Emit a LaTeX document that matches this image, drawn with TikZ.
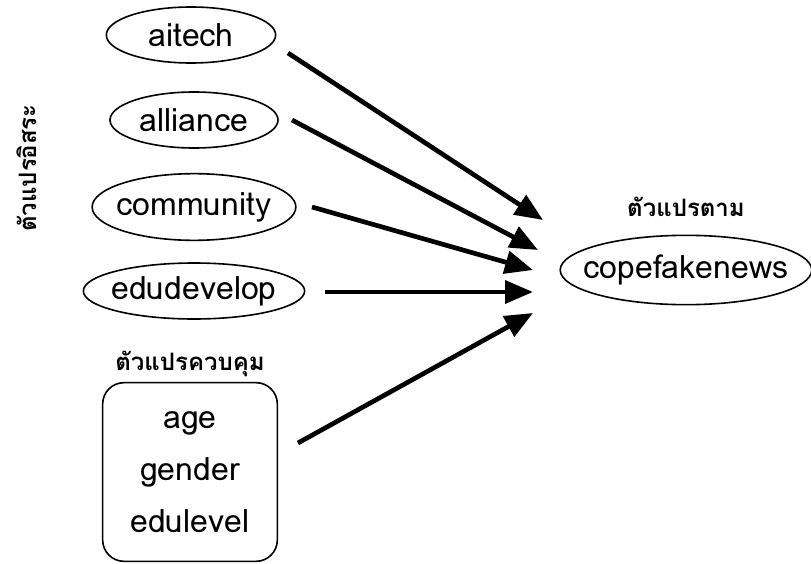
\documentclass[tikz,border=0pt]{standalone}
\usepackage{fontspec}
\setmainfont{Loma}[Script=Thai]
\usetikzlibrary{positioning,shapes.geometric,arrows.meta}
\tikzset{
  var/.style={ellipse, draw, line width=1.2pt, inner ysep=0pt, inner xsep=-4pt,
    font=\fontsize{24}{29}\selectfont},
  ctrl/.style={rectangle, rounded corners=16pt, draw, line width=1.2pt,
    align=center, inner sep=0pt, font=\fontsize{24}{29}\selectfont},
  head/.style={inner sep=0pt, font=\bfseries\fontsize{18}{21}\selectfont},
  eff/.style={-{Triangle[length=21pt,width=17pt]}, line width=3.5pt}}

\begin{document}
\begin{tikzpicture}[x=0.75pt, y=-0.75pt]
        \useasboundingbox (0,0) rectangle (811,564);
        % independent variables
        \node[var, minimum width=127pt, minimum height=42pt] (aitech)    at (191,35)  {aitech};
        \node[var, minimum width=126pt, minimum height=42pt] (alliance)  at (194,120) {alliance};
        \node[var, minimum width=152pt, minimum height=50pt] (community) at (194,207) {community};
        \node[var, minimum width=166pt, minimum height=42pt] (edudevelop) at (194,291) {edudevelop};
        \node[ctrl, minimum width=131pt, minimum height=134pt] (control) at (190,472)
          {age\\[10pt] gender\\[10pt] edulevel};
        % dependent variable
        \node[var, inner xsep=-10pt, minimum width=185pt, minimum height=52pt] (cope) at (686,270) {copefakenews};
        % headings
        \node[head, rotate=90] (indep) at (27,168) {ตัวแปรอิสระ};
        \node[head] (ctrlhead) [above=4pt of control] {ตัวแปรควบคุม};
        \node[head] (dephead)  [above=13pt of cope]   {ตัวแปรตาม};
        % arrow ends
        \coordinate (s1) at (288,53);  \coordinate (t1) at (543,220);
        \coordinate (s2) at (292,120); \coordinate (t2) at (538,250);
        \coordinate (s3) at (312,207); \coordinate (t3) at (533,270);
        \coordinate (s4) at (325,292); \coordinate (t4) at (533,292);
        \coordinate (s5) at (298,443); \coordinate (t5) at (533,313);
        \draw[eff] (s1) -- (t1);
        \draw[eff] (s2) -- (t2);
        \draw[eff] (s3) -- (t3);
        \draw[eff] (s4) -- (t4);
        \draw[eff] (s5) -- (t5);
\end{tikzpicture}
\end{document}
